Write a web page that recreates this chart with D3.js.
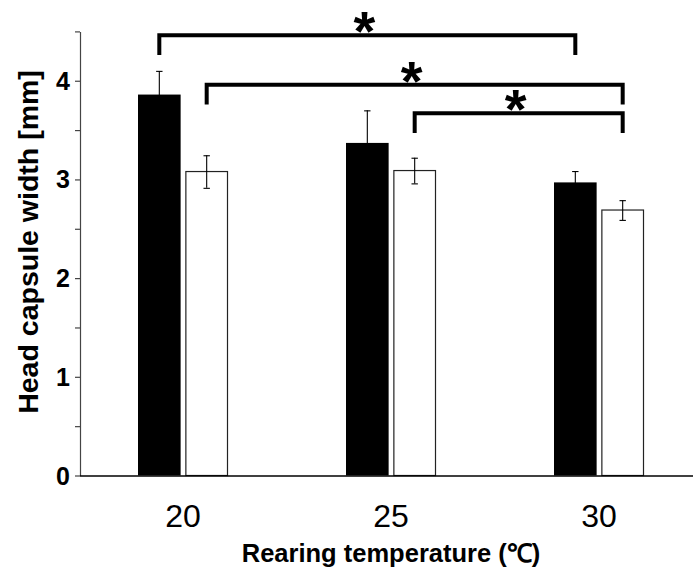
<!DOCTYPE html>
<html>
<head>
<meta charset="utf-8">
<script src="https://cdn.jsdelivr.net/npm/d3@7/dist/d3.min.js"></script>
<style>
  html, body { margin: 0; padding: 0; background: #fff; }
  svg { display: block; font-family: "Liberation Sans", Arial, sans-serif; }
</style>
</head>
<body>
<svg id="chart" width="693" height="572"></svg>
<script>
// ---- data ----
const categories = ["20", "25", "30"];
const seriesNames = ["black", "white"];
const blackValues = [3.86, 3.37, 2.97];
const blackErrors = [0.24, 0.33, 0.115];
const whiteValues = [3.08, 3.09, 2.69];
const whiteErrors = [0.165, 0.13, 0.10];
const yTicks = [0, 1, 2, 3, 4];
const yMinorTicks = [0, 0.5, 1, 1.5, 2, 2.5, 3, 3.5, 4, 4.5];
// significance brackets: [fromCategory, fromSeries, toCategory, toSeries, level]
const bracketFrom = [["20", "black"], ["20", "white"], ["25", "white"]];
const bracketTo = [["30", "black"], ["30", "white"], ["30", "white"]];
const bracketLevel = [4.46, 3.96, 3.67];
const bracketLabels = ["*", "*", "*"];
const xTitle = "Rearing temperature (℃)";
const yTitle = "Head capsule width [mm]";

// ---- layout ----
const svg = d3.select("#chart");
const axisX = 80;
const x0 = d3.scaleBand().domain(categories).range([79, 703]).paddingInner(0).paddingOuter(0);
const x1 = d3.scaleBand().domain(seriesNames).range([-45, 45]).paddingInner(0.1);
const y = d3.scaleLinear().domain([0, 4.5]).range([475.5, 31.4]);

const rows = categories.map((c, i) => ({
  cat: c,
  vals: [
    { s: "black", v: blackValues[i], e: blackErrors[i] },
    { s: "white", v: whiteValues[i], e: whiteErrors[i] }
  ]
}));
const cx = (c) => x0(c) + x0.bandwidth() / 2;

// bars
const g = svg.append("g");
const grp = g.selectAll("g.grp").data(rows).join("g")
  .attr("class", "grp")
  .attr("transform", d => `translate(${cx(d.cat)},0)`);

grp.selectAll("rect").data(d => d.vals).join("rect")
  .attr("x", d => x1(d.s) + (d.s === "white" ? 0.5 : 0))
  .attr("y", d => y(d.v))
  .attr("width", d => x1.bandwidth() - (d.s === "white" ? 1 : 0))
  .attr("height", d => y(0) - y(d.v))
  .attr("fill", d => d.s === "black" ? "#000" : "#fff")
  .attr("stroke", d => d.s === "black" ? "none" : "#222")
  .attr("stroke-width", 1.2);

// error bars
const eb = grp.selectAll("g.eb").data(d => d.vals).join("g").attr("class", "eb");
eb.append("line")
  .attr("x1", d => x1(d.s) + x1.bandwidth() / 2)
  .attr("x2", d => x1(d.s) + x1.bandwidth() / 2)
  .attr("y1", d => y(d.v - d.e))
  .attr("y2", d => y(d.v + d.e))
  .attr("stroke", "#000").attr("stroke-width", 1.1);
eb.selectAll("line.cap").data(d => [
    { s: d.s, yv: d.v + d.e }, { s: d.s, yv: d.v - d.e }
  ]).join("line").attr("class", "cap")
  .attr("x1", d => x1(d.s) + x1.bandwidth() / 2 - 3.2)
  .attr("x2", d => x1(d.s) + x1.bandwidth() / 2 + 3.2)
  .attr("y1", d => y(d.yv) + 0.5)
  .attr("y2", d => y(d.yv) + 0.5)
  .attr("stroke", "#000").attr("stroke-width", 1.1);

// y axis
const yAxis = d3.axisLeft(y).tickValues(yMinorTicks).tickSize(5).tickSizeOuter(0)
  .tickFormat(d => yTicks.includes(d) ? d3.format("d")(d) : "");
const ya = svg.append("g").attr("transform", `translate(${axisX},0)`).call(yAxis);
ya.select(".domain").attr("stroke", "#444").attr("stroke-width", 1.2);
ya.selectAll(".tick line").attr("stroke", "#444").attr("stroke-width", 1.2);
ya.selectAll(".tick text")
  .attr("x", -10)
  .attr("dy", "0.34em")
  .attr("fill", "#000")
  .style("font-family", "'Liberation Sans', Arial, sans-serif")
  .style("font-weight", "bold")
  .style("font-size", "25px");

// x axis
const xAxis = d3.axisBottom(x0).tickSize(0).tickSizeOuter(0);
const xa = svg.append("g").attr("transform", `translate(0,${y(0)})`).call(xAxis);
xa.select(".domain").attr("d", `M${axisX},0.5H693`).attr("stroke", "#000").attr("stroke-width", 1.3);
xa.selectAll(".tick text")
  .attr("y", 51.5).attr("dy", 0)
  .attr("fill", "#000")
  .style("font-family", "'Liberation Sans', Arial, sans-serif")
  .style("font-size", "32px");

// brackets
const bx = (pair) => cx(pair[0]) + x1(pair[1]) + x1.bandwidth() / 2;
const legLen = 0.2;
const bracketData = bracketLevel.map((lv, i) => ({
  xa: bx(bracketFrom[i]), xb: bx(bracketTo[i]), lv, label: bracketLabels[i]
}));
const bg = svg.append("g");
bg.selectAll("path").data(bracketData).join("path")
  .attr("d", d => `M${d.xa},${y(d.lv - legLen)}V${y(d.lv)}H${d.xb}V${y(d.lv - legLen)}`)
  .attr("fill", "none").attr("stroke", "#000").attr("stroke-width", 4)
  .attr("stroke-linejoin", "miter").attr("stroke-linecap", "butt");
bg.selectAll("text").data(bracketData).join("text")
  .attr("x", d => (d.xa + d.xb) / 2 - 3)
  .attr("y", d => y(d.lv) + 15)
  .attr("text-anchor", "middle")
  .style("font-weight", "bold")
  .style("font-size", "56px")
  .text(d => d.label);

// titles
svg.append("text")
  .attr("x", 391).attr("y", 562)
  .attr("text-anchor", "middle")
  .style("font-weight", "bold").style("font-size", "25.5px")
  .text(xTitle);
svg.append("text")
  .attr("transform", "translate(37.5,242) rotate(-90)")
  .attr("text-anchor", "middle")
  .style("font-weight", "bold").style("font-size", "28.5px")
  .text(yTitle);
</script>
</body>
</html>
